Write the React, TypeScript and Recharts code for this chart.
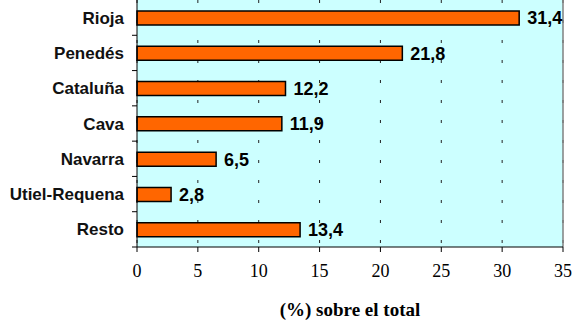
import { BarChart, Bar, XAxis, YAxis, CartesianGrid, LabelList, ReferenceLine } from 'recharts';

const regions = ['Rioja', 'Penedés', 'Cataluña', 'Cava', 'Navarra', 'Utiel-Requena', 'Resto'];
const shares = [31.4, 21.8, 12.2, 11.9, 6.5, 2.8, 13.4];
const xTicks = [0, 5, 10, 15, 20, 25, 30, 35];

const data = regions.map((name, i) => ({ name, value: shares[i] }));

const sans = 'Arial, "Liberation Sans", sans-serif';
const serif = '"Times New Roman", "Liberation Serif", serif';
const labelGap = 13;

// category label, plus the small tick at the lower edge of its band
const CategoryTick = (props: any) => {
  const { x, y, payload } = props;
  const axisX = x + labelGap;
  const edge = y + (payload.offset ?? 0);
  return (
    <g>
      <line x1={axisX - 5} x2={axisX} y1={edge} y2={edge} stroke="#000" />
      <text
        x={x}
        y={y}
        dy="0.355em"
        textAnchor="end"
        fill="#111"
        fontFamily={sans}
        fontSize={17}
        fontWeight="bold"
      >
        {payload.value}
      </text>
    </g>
  );
};

export default function App() {
  return (
    <div style={{ position: 'absolute', left: 0, top: 0 }}>
      <BarChart
        width={575}
        height={325}
        data={data}
        layout="vertical"
        margin={{ top: 0, right: 12, left: 136, bottom: 0 }}
        barCategoryGap={0}
      >
        <CartesianGrid
          horizontal={false}
          fill="#CCFFFF"
          stroke="#222"
          strokeDasharray="3 17"
        />
        <XAxis
          type="number"
          domain={[0, 35]}
          ticks={xTicks}
          height={78}
          tickSize={5}
          tickMargin={12}
          stroke="#000"
          tick={{ fill: '#000', fontFamily: serif, fontSize: 18 }}
          label={{
            value: '(%) sobre el total',
            position: 'insideBottom',
            offset: 9,
            fill: '#000',
            fontFamily: serif,
            fontSize: 19,
            fontWeight: 'bold',
          }}
        />
        <YAxis
          type="category"
          dataKey="name"
          width={1}
          axisLine={{ stroke: '#000' }}
          tickLine={false}
          tickSize={0}
          tickMargin={labelGap}
          tick={<CategoryTick />}
        />
        <ReferenceLine x={35} stroke="#808080" strokeWidth={1.5} />
        <Bar
          dataKey="value"
          fill="#FF6600"
          stroke="#000"
          strokeWidth={1.5}
          barSize={14}
          isAnimationActive={false}
        >
          <LabelList
            dataKey="value"
            position="right"
            offset={8}
            formatter={(v: number) => v.toFixed(1).replace('.', ',')}
            style={{ fill: '#000', fontFamily: sans, fontSize: 18, fontWeight: 'bold' }}
          />
        </Bar>
      </BarChart>
    </div>
  );
}
